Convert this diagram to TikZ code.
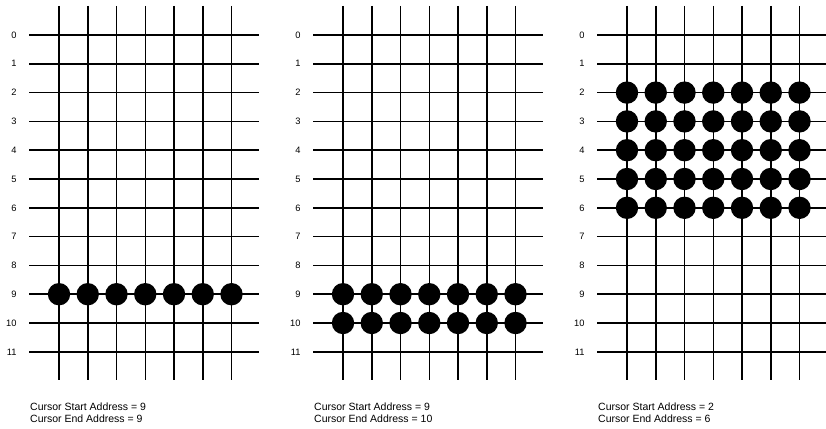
\documentclass[tikz,border=0pt]{standalone}
\usepackage{fontspec}
\setmainfont{Liberation Sans}
\usetikzlibrary{positioning}

\begin{document}
\begin{tikzpicture}[x=1pt,y=-1pt,
  gridline/.style={line width=1.5pt},
  dot/.style={circle,fill=black,inner sep=0pt,minimum size=22.4pt},
  rowlabel/.style={anchor=east,inner sep=0pt,font=\fontsize{9.3}{10}\selectfont},
  caption/.style={anchor=base west,inner sep=0pt,font=\fontsize{10.5}{12.3}\selectfont}]
\useasboundingbox (0,0) rectangle (826,428);
% three panels: panel, start row, end row
\foreach \p/\s/\e in {0/9/9,1/9/10,2/2/6}{
  \begin{scope}[xshift=\p*284pt]
  \foreach \r in {0,...,11}{
    \node[rowlabel] (lab\p-\r) at (16.7,35+28.8*\r) {\r};
    \draw[gridline] (29.3,35+28.8*\r) -- (259.3,35+28.8*\r);
  }
  \foreach \c in {0,...,6}
    \draw[gridline] (59+28.75*\c,6) -- (59+28.75*\c,380);
  \foreach \r in {\s,...,\e}
    \foreach \c in {0,...,6}
      \node[dot] (dot\p-\r-\c) at (59+28.75*\c,35+28.8*\r) {};
  \node[caption] (start\p) at (30,410.5) {Cursor Start Address = \s};
  \node[caption] (end\p) at (30,422.8) {Cursor End Address = \e};
  \end{scope}
}
\end{tikzpicture}
\end{document}
